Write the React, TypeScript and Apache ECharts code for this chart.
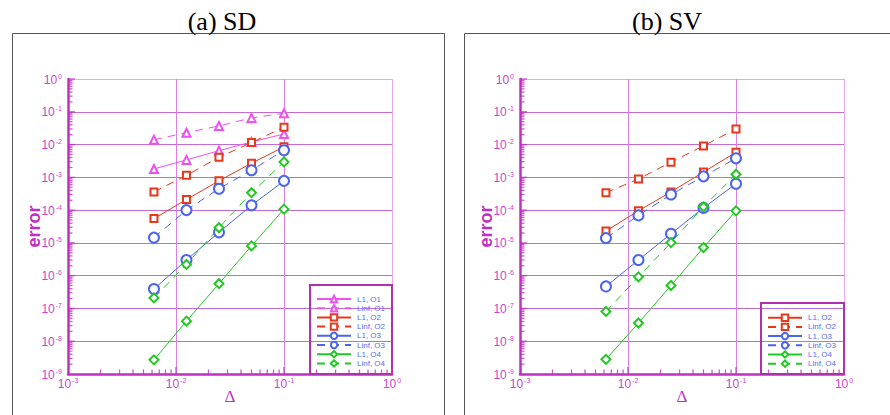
import React, { useEffect, useRef } from "react";
import * as echarts from "echarts";

// Grid spacing values (x)
const deltas = [0.00625, 0.0125, 0.025, 0.05, 0.1];

// (a) SD errors
const sdL1O1 = [1.8e-3, 3.4e-3, 6.5e-3, 1.2e-2, 2.1e-2];
const sdLinfO1 = [1.4e-2, 2.3e-2, 3.7e-2, 6.5e-2, 9.0e-2];
const sdL1O2 = [5.5e-5, 2.1e-4, 7.8e-4, 2.7e-3, 8.5e-3];
const sdLinfO2 = [3.6e-4, 1.15e-3, 4.1e-3, 1.15e-2, 3.4e-2];
const sdL1O3 = [3.9e-7, 3.0e-6, 2.1e-5, 1.4e-4, 7.8e-4];
const sdLinfO3 = [1.45e-5, 1.0e-4, 4.5e-4, 1.65e-3, 6.7e-3];
const sdL1O4 = [2.7e-9, 4.1e-8, 5.7e-7, 8.1e-6, 1.07e-4];
const sdLinfO4 = [2.1e-7, 2.2e-6, 2.9e-5, 3.4e-4, 2.95e-3];

// (b) SV errors
const svL1O2 = [2.3e-5, 9.5e-5, 3.6e-4, 1.45e-3, 5.8e-3];
const svLinfO2 = [3.4e-4, 8.9e-4, 2.9e-3, 9.1e-3, 3.0e-2];
const svL1O3 = [4.7e-7, 3.0e-6, 1.9e-5, 1.17e-4, 6.4e-4];
const svLinfO3 = [1.4e-5, 6.9e-5, 3.0e-4, 1.07e-3, 3.8e-3];
const svL1O4 = [2.8e-9, 3.6e-8, 5.0e-7, 7.2e-6, 9.5e-5];
const svLinfO4 = [8.1e-8, 9.2e-7, 1.02e-5, 1.26e-4, 1.24e-3];

const sdNames = ["L1, O1", "Linf, O1", "L1, O2", "Linf, O2", "L1, O3", "Linf, O3", "L1, O4", "Linf, O4"];
const svNames = ["L1, O2", "Linf, O2", "L1, O3", "Linf, O3", "L1, O4", "Linf, O4"];

// axis ticks
const minorMultipliers = [2, 3, 4, 5, 6, 7, 8, 9];
const xDecades = [1e-3, 1e-2, 1e-1];
const yDecades = [1e-9, 1e-8, 1e-7, 1e-6, 1e-5, 1e-4, 1e-3, 1e-2, 1e-1];
const xMajor = [1e-2, 1e-1];
const yMajor = [1e-8, 1e-7, 1e-6, 1e-5, 1e-4, 1e-3, 1e-2, 1e-1, 1];

const C1 = "#f050f0";
const C2 = "#e8381c";
const C3 = "#4a64f2";
const C4 = "#22c822";
const AXIS = "#c030c0";
const LABEL = "#cc44cc";
const GRIDH = "#c46ad4";
const GRIDV = "#d880e6";
const EDGE = "#eaa6ee";

const styleOf: Record<string, { color: string; symbol: string; size: number }> = {
  O1: { color: C1, symbol: "emptyTriangle", size: 8 },
  O2: { color: C2, symbol: "emptyRect", size: 7 },
  O3: { color: C3, symbol: "emptyCircle", size: 10 },
  O4: { color: C4, symbol: "emptyDiamond", size: 9 },
};

function lineSeries(name: string, vals: number[], gridIdx: number) {
  const order = name.slice(-2);
  const st = styleOf[order];
  const dashed = name.startsWith("Linf");
  return {
    type: "line",
    name,
    xAxisIndex: gridIdx,
    yAxisIndex: gridIdx,
    data: deltas.map((d, i) => [d, vals[i]]),
    symbol: st.symbol,
    symbolSize: st.size,
    lineStyle: { color: st.color, width: 1, type: dashed ? [8, 6] : "solid" },
    itemStyle: { color: st.color, borderWidth: 1 },
    z: 3,
  };
}

const xMinor = xDecades.flatMap((d) => minorMultipliers.map((m) => m * d));
const yMinor = yDecades.flatMap((d) => minorMultipliers.map((m) => m * d));

function tickMarks(gridIdx: number, xs: number[], ys: number[], len: number) {
  const base = {
    type: "scatter",
    xAxisIndex: gridIdx,
    yAxisIndex: gridIdx,
    silent: true,
    clip: false,
    symbol: "rect",
    itemStyle: { color: AXIS },
    z: 5,
  };
  return [
    { ...base, data: xs.map((v) => [v, 1e-9]), symbolSize: [1.3, len], symbolOffset: [0, -len / 2] },
    { ...base, data: ys.map((v) => [1e-3, v]), symbolSize: [len, 1.3], symbolOffset: [len / 2, 0] },
  ];
}

const expFormatter = (v: number) => `{b|10}{s|${Math.round(Math.log10(v))}}`;
const richLabel = {
  b: { fontSize: 12, fontFamily: "Liberation Sans", color: LABEL, lineHeight: 13, verticalAlign: "bottom" },
  s: { fontSize: 7, fontFamily: "Liberation Sans", color: LABEL, lineHeight: 13, verticalAlign: "top", padding: [0, 0, 0, 1] },
};

function xAxisOf(gridIdx: number) {
  return {
    type: "log",
    gridIndex: gridIdx,
    logBase: 10,
    min: 1e-3,
    max: 1,
    name: "Δ",
    nameLocation: "middle",
    nameGap: 13.5,
    nameMoveOverlap: false,
    nameTextStyle: { fontFamily: "Liberation Serif", fontSize: 17, color: AXIS },
    axisLine: { show: true, lineStyle: { color: AXIS, width: 2.5 } },
    axisTick: { show: false },
    axisLabel: { formatter: expFormatter, rich: richLabel, margin: 3 },
    splitLine: { show: true, lineStyle: { color: [GRIDH, GRIDV, GRIDV, EDGE], width: 1 } },
  };
}

function yAxisOf(gridIdx: number) {
  return {
    type: "log",
    gridIndex: gridIdx,
    logBase: 10,
    min: 1e-9,
    max: 1,
    name: "error",
    nameLocation: "middle",
    nameRotate: 90,
    nameGap: 25,
    nameMoveOverlap: false,
    nameTextStyle: { fontFamily: "Liberation Sans", fontSize: 18, fontWeight: "bold", color: AXIS },
    axisLine: { show: true, lineStyle: { color: AXIS, width: 2.5 } },
    axisTick: { show: false },
    axisLabel: { formatter: expFormatter, rich: richLabel, margin: 6 },
    splitLine: {
      show: true,
      lineStyle: { color: [GRIDH, GRIDH, GRIDH, GRIDH, GRIDH, GRIDH, GRIDH, GRIDH, GRIDH, EDGE], width: 1 },
    },
  };
}

function legendOf(names: string[], left: number, top: number) {
  return {
    orient: "vertical",
    left,
    top,
    padding: 0,
    itemGap: 0.2,
    itemWidth: 34,
    itemHeight: 8,
    selectedMode: false,
    data: names,
    textStyle: { fontSize: 8, lineHeight: 9, color: "#5a6cf0", fontFamily: "Liberation Sans", padding: [0, 0, 0, 1] },
  };
}

export default function App() {
  const ref = useRef<HTMLDivElement>(null);
  useEffect(() => {
    if (!ref.current) return;
    const chart = echarts.init(ref.current, undefined, { renderer: "svg" });
    const sdVals = [sdL1O1, sdLinfO1, sdL1O2, sdLinfO2, sdL1O3, sdLinfO3, sdL1O4, sdLinfO4];
    const svVals = [svL1O2, svLinfO2, svL1O3, svLinfO3, svL1O4, svLinfO4];
    const series: any[] = [
      ...sdNames.map((n, i) => lineSeries(n, sdVals[i], 0)),
      ...svNames.map((n, i) => lineSeries(n, svVals[i], 1)),
      ...tickMarks(0, xMinor, yMinor, 4.5),
      ...tickMarks(1, xMinor, yMinor, 4.5),
      ...tickMarks(0, xMajor, yMajor, 7),
      ...tickMarks(1, xMajor, yMajor, 7),
    ];
    chart.setOption({
      animation: false,
      backgroundColor: "#ffffff",
      grid: [
        { left: 68, top: 79, width: 324, height: 295, outerBoundsMode: "none", containLabel: false },
        { left: 520, top: 79, width: 324, height: 295, outerBoundsMode: "none", containLabel: false },
      ],
      xAxis: [xAxisOf(0), xAxisOf(1)],
      yAxis: [yAxisOf(0), yAxisOf(1)],
      legend: [legendOf(sdNames, 316, 294.5), legendOf(svNames, 767, 313.2)],
      series,
      graphic: [
        {
          type: "rect",
          shape: { x: 12.5, y: 33.5, width: 432, height: 420 },
          style: { fill: "none", stroke: "#555", lineWidth: 1 },
          silent: true,
        },
        {
          type: "rect",
          shape: { x: 464.5, y: 33.5, width: 440, height: 420 },
          style: { fill: "none", stroke: "#555", lineWidth: 1 },
          silent: true,
        },
        {
          type: "rect",
          shape: { x: 310, y: 285, width: 82, height: 89 },
          style: { fill: "none", stroke: "#b030b0", lineWidth: 2 },
          silent: true,
          z: 10,
        },
        {
          type: "rect",
          shape: { x: 761, y: 303, width: 83, height: 71 },
          style: { fill: "none", stroke: "#b030b0", lineWidth: 2 },
          silent: true,
          z: 10,
        },
        {
          type: "text",
          x: 222,
          y: 21,
          style: { text: "(a) SD", align: "center", verticalAlign: "middle", fontSize: 26, fontFamily: "Liberation Serif", fill: "#000" },
        },
        {
          type: "text",
          x: 667,
          y: 21,
          style: { text: "(b) SV", align: "center", verticalAlign: "middle", fontSize: 26, fontFamily: "Liberation Serif", fill: "#000" },
        },
      ],
    });
    return () => chart.dispose();
  }, []);
  return <div ref={ref} style={{ position: "fixed", left: 0, top: 0, width: 890, height: 415 }} />;
}
